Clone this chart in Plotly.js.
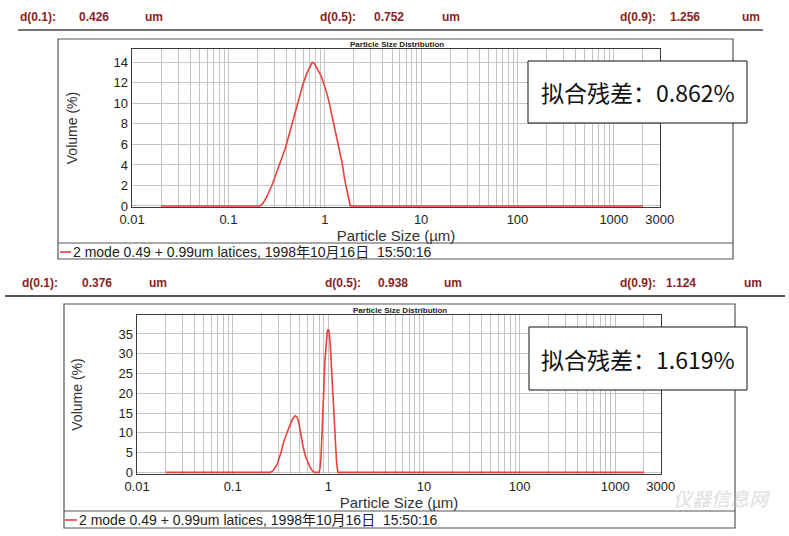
<!DOCTYPE html>
<html><head><meta charset="utf-8">
<script src="https://cdn.plot.ly/plotly-3.0.1.min.js"></script>
<style>html,body{margin:0;padding:0;background:#fff}#chart{width:789px;height:536px}</style>
</head><body><div id="chart"></div>
<script>
// ---- data ----
const sizesTop  = [0.02, 0.1, 0.2, 0.213, 0.23, 0.25, 0.281, 0.31, 0.34, 0.386, 0.44, 0.49, 0.55, 0.60, 0.65, 0.70, 0.74, 0.78, 0.83, 0.88, 0.924, 0.98, 1.05, 1.11, 1.172, 1.24, 1.3, 1.37, 1.43, 1.52, 1.61, 1.70, 1.78, 1.84, 2.0, 10, 100, 1000, 2000];
const volumeTop = [0, 0, 0, 0, 0.3, 0.9, 1.94, 3.0, 4.2, 5.5, 7.4, 9.07, 10.9, 12.0, 12.9, 13.6, 14.0, 13.9, 13.5, 13.0, 12.6, 11.9, 11.0, 10.1, 9.07, 8.0, 7.2, 6.3, 5.5, 4.1, 2.6, 1.4, 0.5, 0, 0, 0, 0, 0, 0];
const sizesBot  = [0.02, 0.1, 0.24, 0.247, 0.26, 0.275, 0.294, 0.32, 0.345, 0.37, 0.389, 0.41, 0.43, 0.45, 0.47, 0.49, 0.515, 0.545, 0.58, 0.62, 0.654, 0.69, 0.72, 0.80, 0.82, 0.84, 0.86, 0.887, 0.92, 0.95, 0.975, 1.0, 1.025, 1.05, 1.08, 1.118, 1.15, 1.18, 1.22, 1.26, 2, 10, 100, 1000, 2000];
const volumeBot = [0, 0, 0, 0, 0.3, 1.0, 2.25, 5.0, 8.1, 10.2, 11.4, 12.7, 13.8, 14.3, 14.0, 12.7, 9.75, 6.5, 3.9, 2.0, 1.0, 0.3, 0, 0, 1.2, 4, 9, 18, 28, 33.5, 35.6, 36.2, 35.3, 32, 26, 18, 12, 7, 2.5, 0, 0, 0, 0, 0, 0];
const decades = [0.01, 0.1, 1, 10, 100, 1000];
const decadeLabels = ['0.01', '0.1', '1', '10', '100', '1000'];
const endValue = 3000, endLabel = '3000';
const statKeys = ['d(0.1):', 'd(0.5):', 'd(0.9):'];
const statTop = ['0.426', '0.752', '1.256'];
const statBot = ['0.376', '0.938', '1.124'];
const statUnit = 'um';
const residualTop = '拟合残差：0.862%';
const residualBot = '拟合残差：1.619%';
const seriesName = '2 mode 0.49 + 0.99um latices, 1998年10月16日  15:50:16';
const chartTitle = 'Particle Size Distribution';

// ---- helpers ----
const W = 789, H = 536;
const px = x => x / W, py = y => 1 - y / H;
const FONT = 'Liberation Sans, Arial, Noto Sans CJK SC, sans-serif';
const RED = '#e8403a';

const tickvals = [], ticktext = [];
decades.forEach((d, i) => {
  for (let m = 1; m <= 9; m++) {
    const v = m * d;
    if (v >= endValue) break;
    tickvals.push(v);
    ticktext.push(m === 1 ? decadeLabels[i] : '');
  }
});
tickvals.push(endValue); ticktext.push(endLabel);

function xAxis(dom, anchor, standoff) {
  return {type: 'log', domain: dom, anchor: anchor, range: [-2.0005, Math.log10(endValue) + 0.002],
    tickmode: 'array', tickvals: tickvals, ticktext: ticktext, ticks: '',
    showgrid: true, gridcolor: '#c4c4c4', gridwidth: 1, zeroline: false,
    showline: true, mirror: true, linecolor: '#3a3a3a', linewidth: 1.4, layer: 'below traces',
    tickfont: {family: FONT, size: 13, color: '#222'}, automargin: false,
    title: {text: 'Particle Size (µm)', font: {family: FONT, size: 15, color: '#333'}, standoff: standoff}};
}
function yAxis(dom, anchor, range, dtick) {
  return {domain: dom, anchor: anchor, range: range, dtick: dtick, tick0: 0, ticks: '',
    showgrid: true, gridcolor: '#c4c4c4', gridwidth: 1, zeroline: false,
    showline: true, mirror: true, linecolor: '#3a3a3a', linewidth: 1.4, layer: 'below traces',
    tickfont: {family: FONT, size: 13, color: '#222'}, automargin: false,
    title: {text: 'Volume (%)', font: {family: FONT, size: 14, color: '#333'}, standoff: 32}};
}

const traces = [
  {x: sizesTop, y: volumeTop, xaxis: 'x', yaxis: 'y', type: 'scatter', mode: 'lines', name: seriesName,
   line: {color: RED, width: 1.6}, showlegend: false, hoverinfo: 'skip'},
  {x: sizesBot, y: volumeBot, xaxis: 'x2', yaxis: 'y2', type: 'scatter', mode: 'lines', name: seriesName,
   line: {color: RED, width: 1.6}, showlegend: false, hoverinfo: 'skip'}
];

const ann = [];
const hdr = (txt, x, y) => ann.push({text: '<b>' + txt + '</b>', xref: 'paper', yref: 'paper', x: px(x), y: py(y),
  xanchor: 'left', yanchor: 'middle', showarrow: false, font: {family: FONT, size: 12, color: '#8b1e1e'}});
[[18, 77, 143], [318, 372, 440], [618, 668, 740]].forEach((p, i) => {
  hdr(statKeys[i], p[0], 17); hdr(statTop[i], p[1], 17); hdr(statUnit, p[2], 17);
});
[[20, 80, 147], [323, 376, 442], [618, 664, 742]].forEach((p, i) => {
  hdr(statKeys[i], p[0], 283); hdr(statBot[i], p[1], 283); hdr(statUnit, p[2], 283);
});
ann.push({text: '<b>' + chartTitle + '</b>', xref: 'paper', yref: 'paper', x: px(397), y: py(44), xanchor: 'center', yanchor: 'middle',
  showarrow: false, font: {family: FONT, size: 8, color: '#222'}});
ann.push({text: '<b>' + chartTitle + '</b>', xref: 'paper', yref: 'paper', x: px(400), y: py(310), xanchor: 'center', yanchor: 'middle',
  showarrow: false, font: {family: FONT, size: 8, color: '#222'}});
ann.push({text: residualTop, xref: 'paper', yref: 'paper', x: px(637.5), y: py(92), xanchor: 'center', yanchor: 'middle',
  showarrow: false, font: {family: 'Noto Sans CJK SC, sans-serif', size: 23, color: '#111'}});
ann.push({text: residualBot, xref: 'paper', yref: 'paper', x: px(638), y: py(358.5), xanchor: 'center', yanchor: 'middle',
  showarrow: false, font: {family: 'Noto Sans CJK SC, sans-serif', size: 23, color: '#111'}});
ann.push({text: seriesName, xref: 'paper', yref: 'paper', x: px(71), y: py(252), xanchor: 'left', yanchor: 'middle',
  showarrow: false, font: {family: FONT, size: 14, color: '#222'}});
ann.push({text: seriesName, xref: 'paper', yref: 'paper', x: px(77), y: py(520), xanchor: 'left', yanchor: 'middle',
  showarrow: false, font: {family: FONT, size: 14, color: '#222'}});
ann.push({text: '<b><i>仪器信息网</i></b>', xref: 'paper', yref: 'paper', x: px(722), y: py(497), xanchor: 'center', yanchor: 'middle',
  showarrow: false, font: {family: 'Noto Sans CJK SC, sans-serif', size: 19, color: 'rgba(200,200,200,0.45)'}});

const L = (x0, y0, x1, y1, color, w) => ({type: 'line', xref: 'paper', yref: 'paper', x0: px(x0), y0: py(y0), x1: px(x1), y1: py(y1),
  line: {color: color, width: w}});
const R = (x0, y0, x1, y1, color, w, fill) => ({type: 'rect', xref: 'paper', yref: 'paper', x0: px(x0), y0: py(y0), x1: px(x1), y1: py(y1),
  line: {color: color, width: w}, fillcolor: fill || 'rgba(0,0,0,0)', layer: 'above'});
const shapes = [
  L(18, 30, 763, 30, '#444', 1.5),
  R(58, 39, 733, 259, '#555', 1.2),
  L(58, 243, 733, 243, '#555', 1.2),
  L(60, 252, 71, 252, RED, 1.6),
  L(5, 296, 785, 296, '#555', 2),
  R(64, 304, 735, 528, '#555', 1.2),
  L(64, 511, 735, 511, '#555', 1.2),
  L(65, 520, 77, 520, RED, 1.6),
  R(528, 61, 747, 123, '#111', 1, '#fff'),
  R(529, 327, 747, 390, '#111', 1, '#fff')
];

const layout = {
  width: W, height: H, margin: {l: 0, r: 0, t: 0, b: 0}, paper_bgcolor: '#fff', plot_bgcolor: '#fff',
  showlegend: false, font: {family: FONT},
  xaxis: xAxis([px(132), px(660)], 'y', 1),
  yaxis: yAxis([py(207), py(49)], 'x', [-0.1, 15.3], 2),
  xaxis2: xAxis([px(137), px(661)], 'y2', 1),
  yaxis2: yAxis([py(474), py(315)], 'x2', [-0.4, 39.8], 5),
  annotations: ann, shapes: shapes
};
Plotly.newPlot('chart', traces, layout, {staticPlot: true, displayModeBar: false});
</script></body></html>
